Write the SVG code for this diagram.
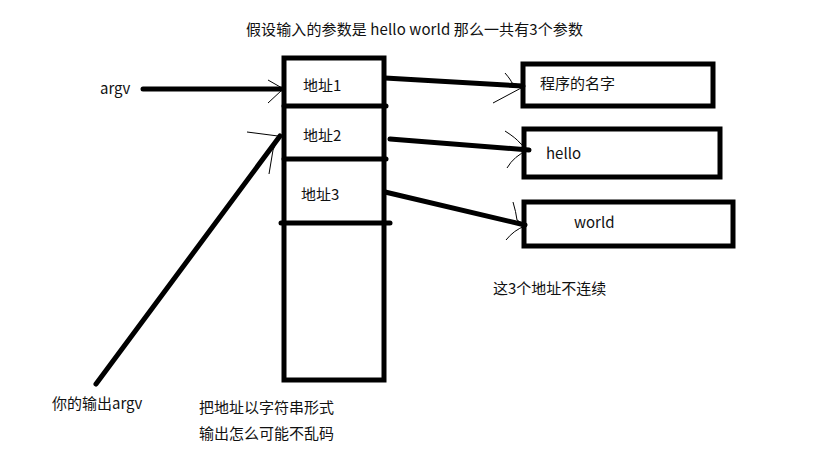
<svg xmlns="http://www.w3.org/2000/svg" width="819" height="460" viewBox="0 0 819 460">
<style>
text{font-family:"Noto Sans CJK SC","Liberation Sans",sans-serif;font-size:15px;fill:#111}
.box{fill:none;stroke:#000;stroke-width:5}
.thick{fill:none;stroke:#000;stroke-width:5;stroke-linecap:round}
.thin{fill:none;stroke:#000;stroke-width:1}
</style>
<rect width="819" height="460" fill="#fff"/>
<text x="246" y="35" textLength="337">假设输入的参数是 hello world 那么一共有3个参数</text>
<g id="array">
<rect class="box" x="284" y="58" width="100" height="322"/>
<line class="thick" x1="284" y1="106" x2="386" y2="106"/>
<line class="thick" x1="284" y1="159" x2="386" y2="159"/>
<line class="thick" x1="281" y1="223" x2="390" y2="223"/>
<text x="303" y="91">地址1</text>
<text x="303" y="141">地址2</text>
<text x="301" y="200">地址3</text>
</g>
<g id="node-name">
<rect class="box" x="523" y="64" width="190" height="42"/>
<text x="540" y="89">程序的名字</text>
</g>
<g id="node-hello">
<rect class="box" x="524" y="129" width="196" height="48"/>
<text x="546" y="159">hello</text>
</g>
<g id="node-world">
<rect class="box" x="524" y="202" width="209" height="44"/>
<text x="574" y="228">world</text>
</g>
<g id="label-argv"><text x="100" y="94">argv</text></g>
<g id="label-out"><text x="52" y="409">你的输出argv</text></g>
<g id="note-addr"><text x="493" y="294">这3个地址不连续</text></g>
<g id="note-bottom">
<text x="199" y="413">把地址以字符串形式</text>
<text x="199" y="439">输出怎么可能不乱码</text>
</g>
<g id="connectors">
<line class="thick" x1="143" y1="89" x2="283" y2="89"/>
<path class="thin" d="M268 80 L282 88 M268 103 L282 90"/>
<line class="thick" x1="96" y1="384" x2="280" y2="136"/>
<path class="thin" d="M247 132 L278 136 M269 174 L273 150 L279 137"/>
<line class="thick" x1="385" y1="78" x2="523" y2="86"/>
<path class="thin" d="M505 73 Q511 80 512 83 L523 86 M493 103 L523 87"/>
<line class="thick" x1="390" y1="139" x2="529" y2="150"/>
<path class="thin" d="M505 131 Q516 138 520 143 L528 150 M507 168 Q514 156 528 150"/>
<line class="thick" x1="385" y1="192" x2="525" y2="225"/>
<path class="thin" d="M513 202 Q516 212 517 220 L525 225 M506 240 Q514 230 525 226"/>
</g>
</svg>
